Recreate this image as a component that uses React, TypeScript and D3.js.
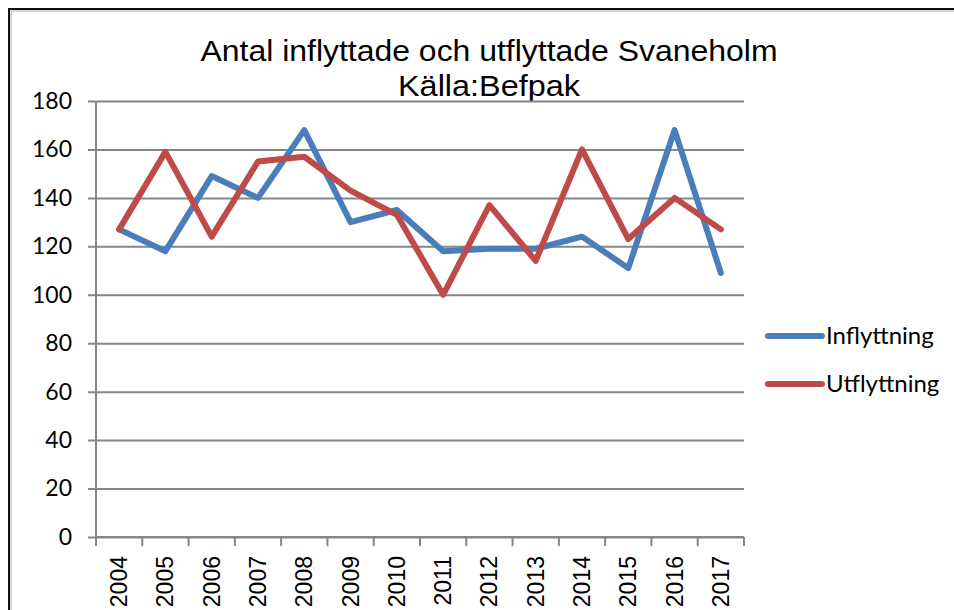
import React, { useEffect, useRef } from 'react';
import * as d3 from 'd3';

// Data
const years = ['2004', '2005', '2006', '2007', '2008', '2009', '2010', '2011', '2012', '2013', '2014', '2015', '2016', '2017'];
const inflyttning = [127, 118, 149, 140, 168, 130, 135, 118, 119, 119, 124, 111, 168, 109];
const utflyttning = [127, 159, 124, 155, 157, 143, 133, 100, 137, 114, 160, 123, 140, 127];
const yTicks = [0, 20, 40, 60, 80, 100, 120, 140, 160, 180];
const titleLines = ['Antal inflyttade och utflyttade Svaneholm', 'Källa:Befpak'];

const series = [
    { name: 'Inflyttning', values: inflyttning, color: '#4A7EBB' },
    { name: 'Utflyttning', values: utflyttning, color: '#BE4B48' },
];

const App = () => {
    const chartRef = useRef<SVGSVGElement>(null);

    useEffect(() => {
        const width = 954;
        const height = 610;
        const margin = { top: 101, right: 210, bottom: 73, left: 96 };
        const gridColor = '#868686';

        const svg = d3.select(chartRef.current);
        svg.selectAll('*').remove();

        svg.append('rect').attr('width', width).attr('height', height).attr('fill', '#fff');

        // Chart frame, only top and left edges are visible
        svg.append('path')
            .attr('d', `M9,${height + 50}V9H${width + 50}`)
            .attr('fill', 'none')
            .attr('stroke', '#111')
            .attr('stroke-width', 2);
        svg.append('path')
            .attr('d', `M11,${height + 50}V11H${width + 50}`)
            .attr('fill', 'none')
            .attr('stroke', '#aaa')
            .attr('stroke-width', 1);

        // Scales
        const x = d3.scaleBand().domain(years).range([margin.left, width - margin.right]);
        const y = d3.scaleLinear().domain([0, 180]).range([height - margin.bottom, margin.top]);

        // Title
        svg.append('g')
            .selectAll('text')
            .data(titleLines)
            .join('text')
            .attr('x', 489)
            .attr('y', (d, i) => 61 + i * 35)
            .attr('text-anchor', 'middle')
            .style('font-family', '"Liberation Sans", Arial, sans-serif')
            .style('font-size', '29px')
            .attr('textLength', (d, i) => (i === 0 ? 577 : 182))
            .attr('lengthAdjust', 'spacingAndGlyphs')
            .text((d) => d);

        // Gridlines + y axis
        svg.append('g')
            .attr('transform', `translate(${margin.left},0)`)
            .call(d3.axisLeft(y).tickValues(yTicks).tickSize(8).tickPadding(16).tickSizeOuter(0))
            .call((g) => g.select('.domain').remove())
            .call((g) => g.selectAll('.tick line')
                .attr('x1', -8)
                .attr('x2', x.range()[1] - margin.left)
                .attr('stroke', gridColor)
                .attr('stroke-width', 2))
            .call((g) => g.selectAll('.tick text')
                .attr('fill', '#000')
                .style('font-family', 'Lato, "Open Sans", sans-serif')
                .style('font-size', '23px'));

        // Vertical axis line
        svg.append('line')
            .attr('x1', margin.left).attr('x2', margin.left)
            .attr('y1', margin.top).attr('y2', height - margin.bottom + 9)
            .attr('stroke', gridColor)
            .attr('stroke-width', 2);

        // X axis: ticks between categories
        const bounds = years.map((d) => x(d) as number).concat([x.range()[1]]);
        svg.append('g')
            .selectAll('line')
            .data(bounds)
            .join('line')
            .attr('x1', (d) => d).attr('x2', (d) => d)
            .attr('y1', y(0)).attr('y2', y(0) + 9)
            .attr('stroke', gridColor)
            .attr('stroke-width', 2);
        svg.append('line')
            .attr('x1', margin.left).attr('x2', x.range()[1])
            .attr('y1', y(0)).attr('y2', y(0))
            .attr('stroke', gridColor)
            .attr('stroke-width', 2);

        svg.append('g')
            .selectAll('text')
            .data(years)
            .join('text')
            .attr('transform', (d) => `translate(${(x(d) as number) + x.bandwidth() / 2},${y(0) + 19}) rotate(-90)`)
            .attr('text-anchor', 'end')
            .attr('dy', '0.35em')
            .style('font-family', '"Liberation Sans", Arial, sans-serif')
            .style('font-size', '23px')
            .text((d) => d);

        // Lines
        const line = d3.line<number>()
            .x((d, i) => (x(years[i]) as number) + x.bandwidth() / 2)
            .y((d) => y(d));

        series.forEach((s) => {
            svg.append('path')
                .datum(s.values)
                .attr('fill', 'none')
                .attr('stroke', s.color)
                .attr('stroke-width', 6)
                .attr('stroke-linejoin', 'round')
                .attr('stroke-linecap', 'round')
                .attr('d', line);
        });

        // Legend
        const legend = svg.append('g')
            .selectAll('g')
            .data(series)
            .join('g')
            .attr('transform', (d, i) => `translate(768,${336 + i * 48})`);
        legend.append('line')
            .attr('x1', 0).attr('x2', 54)
            .attr('stroke', (d) => d.color)
            .attr('stroke-width', 6)
            .attr('stroke-linecap', 'round');
        legend.append('text')
            .attr('x', 58)
            .attr('dy', '0.35em')
            .style('font-family', 'Lato, "Open Sans", sans-serif')
            .style('font-size', '24px')
            .text((d) => d.name);
    }, []);

    return (
        <svg
            ref={chartRef}
            width={954}
            height={610}
            style={{ position: 'absolute', left: 0, top: 0, overflow: 'hidden' }}
        />
    );
};

export default App;
